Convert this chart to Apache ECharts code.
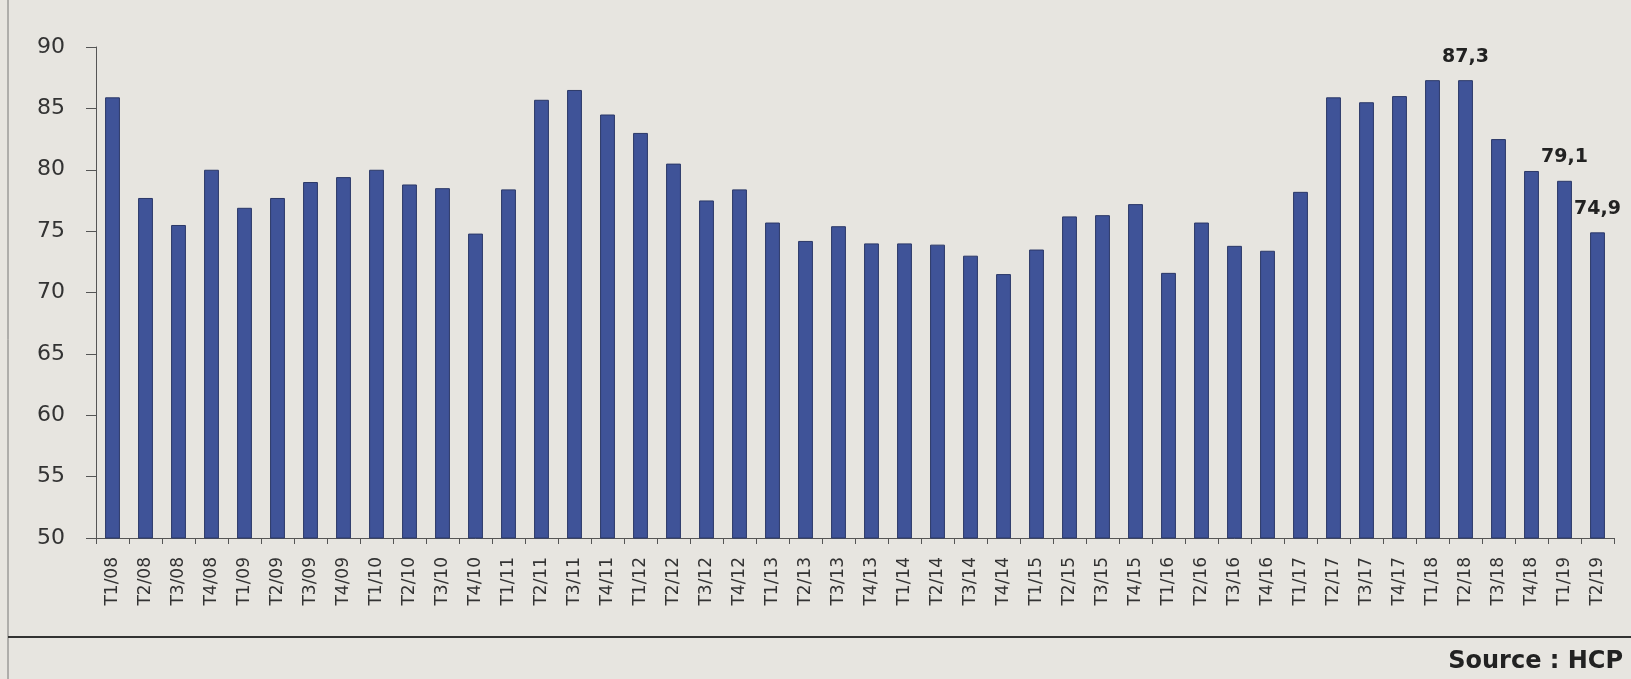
<!DOCTYPE html>
<html>
<head>
<meta charset="utf-8">
<script src="https://cdn.jsdelivr.net/npm/echarts@6/dist/echarts.min.js"></script>
<style>
html,body{margin:0;padding:0;background:#e7e5e0;}
#chart{width:1631px;height:679px;}
</style>
</head>
<body>
<div id="chart"></div>
<script>
const categories = ["T1/08","T2/08","T3/08","T4/08","T1/09","T2/09","T3/09","T4/09","T1/10","T2/10","T3/10","T4/10",
"T1/11","T2/11","T3/11","T4/11","T1/12","T2/12","T3/12","T4/12","T1/13","T2/13","T3/13","T4/13",
"T1/14","T2/14","T3/14","T4/14","T1/15","T2/15","T3/15","T4/15","T1/16","T2/16","T3/16","T4/16",
"T1/17","T2/17","T3/17","T4/17","T1/18","T2/18","T3/18","T4/18","T1/19","T2/19"];
const values = [85.9,77.7,75.5,80.0,76.9,77.7,79.0,79.4,80.0,78.8,78.5,74.8,
78.4,85.7,86.5,84.5,83.0,80.5,77.5,78.4,75.7,74.2,75.4,74.0,
74.0,73.9,73.0,71.5,73.5,76.2,76.3,77.2,71.6,75.7,73.8,73.4,
78.2,85.9,85.5,86.0,87.3,87.3,82.5,79.9,79.1,74.9];
const labelledIdx = [41,44,45];
const yTicks = [50,55,60,65,70,75,80,85,90];
const sourceText = "Source : HCP";

const chart = echarts.init(document.getElementById('chart'));
const seriesData = values.map((v,i)=>({
  value:v,
  label:{show:labelledIdx.includes(i), formatter:p=>String(p.value).replace('.',',')}
}));
chart.setOption({
  backgroundColor:'#e7e5e0',
  animation:false,
  grid:{left:96,right:17,top:47,bottom:141},
  xAxis:{
    type:'category',
    data:categories,
    axisLine:{lineStyle:{color:'#555',width:1}},
    axisTick:{show:true,length:6,lineStyle:{color:'#555'}},
    axisLabel:{rotate:90,interval:0,margin:19,fontFamily:'DejaVu Sans',fontSize:17,color:'#333'}
  },
  yAxis:{
    type:'value',min:yTicks[0],max:yTicks[yTicks.length-1],interval:5,
    splitLine:{show:false},
    axisLine:{show:true,lineStyle:{color:'#555',width:1}},
    axisTick:{show:true,length:10,lineStyle:{color:'#555'}},
    axisLabel:{margin:31,fontFamily:'DejaVu Sans',fontSize:22,color:'#333'}
  },
  series:[{
    type:'bar',
    data:seriesData,
    barWidth:'45%',
    itemStyle:{color:'#3f5398',borderColor:'#2b3868',borderWidth:1},
    label:{position:'top',distance:14,fontFamily:'DejaVu Sans',fontWeight:'bold',fontSize:19,color:'#222'}
  }],
  graphic:[
    {type:'line',shape:{x1:8,y1:0,x2:8,y2:679},style:{stroke:'#777',lineWidth:1}},
    {type:'line',shape:{x1:8,y1:637,x2:1631,y2:637},style:{stroke:'#333',lineWidth:2}},
    {type:'text',right:8,top:650,style:{text:sourceText,font:'bold 24px "DejaVu Sans"',fill:'#222'}}
  ]
});
</script>
</body>
</html>
